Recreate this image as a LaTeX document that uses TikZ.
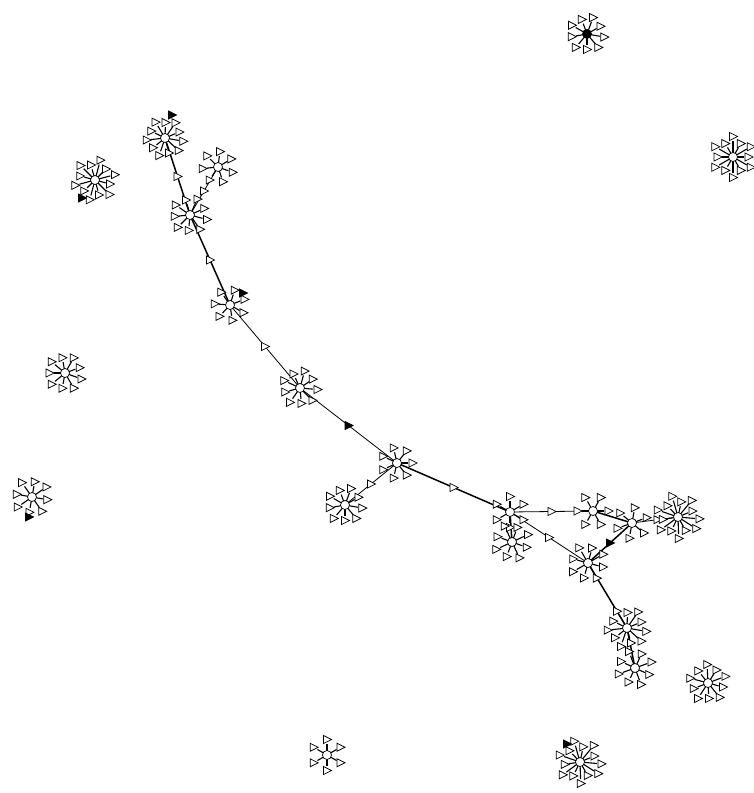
\documentclass[tikz,border=0pt]{standalone}
\usetikzlibrary{calc}
\tikzset{
  hub/.style={circle,draw,fill=white,line width=0.7pt,minimum size=9pt,inner sep=0pt},
  hubdark/.style={hub,fill=black},
  spoke/.style={line width=1.1pt},
  edge/.style={line width=0.8pt},
  thickedge/.style={line width=1.5pt},
  tri/.pic={\draw[fill=white,line width=0.75pt] (-3.4,-4) -- (4.6,0) -- (-3.4,4) -- cycle;},
  ftri/.pic={\draw[fill=black,line width=0.75pt] (-3.4,-4) -- (4.6,0) -- (-3.4,4) -- cycle;}
}
% #1 name, #2 x, #3 y, #4 spokes, #5 angle offset, #6 alternating radius extra, #7 hub style
\newcommand{\hubglyph}[7]{%
  \foreach \k in {1,...,#4}{%
    \pgfmathsetmacro{\ang}{#5+360*\k/#4}%
    \pgfmathsetmacro{\rr}{14.5+#6*mod(\k,2)}%
    \draw[spoke] (#2,#3) -- ($(#2,#3)+(\ang:\rr-3.5)$);
    \pic at ($(#2,#3)+(\ang:\rr+1)$) {tri};
  }%
  \node[#7] (#1) at (#2,#3) {};
}
\begin{document}
\begin{tikzpicture}[x=1pt,y=-1pt]
\useasboundingbox (0,0) rectangle (754,793);
% edges (drawn first, under the hubs)
\coordinate (pA) at (165,138);
\coordinate (pB) at (218,167);
\coordinate (pC) at (190,215);
\coordinate (pD) at (230,305);
\coordinate (pE) at (300,388);
\coordinate (pF) at (397,463);
\coordinate (pG) at (345,505);
\coordinate (pH) at (510,512);
\coordinate (pJ) at (512,542);
\coordinate (pK) at (593,511);
\coordinate (pL) at (632,523);
\coordinate (pM) at (678,517);
\coordinate (pN) at (588,563);
\coordinate (pO) at (627,628);
\coordinate (pP) at (635,668);
\draw[thickedge] (pA) -- (pC);
\draw[edge] (pB) -- (pC);
\draw[thickedge] (pC) -- (pD);
\draw[edge] (pD) -- (pE);
\draw[edge] (pE) -- (pF);
\draw[edge] (pF) -- (pG);
\draw[thickedge] (pF) -- (pH);
\draw[thickedge] (pH) -- (pJ);
\draw[edge] (pH) -- (pK);
\draw[edge] (pH) -- (pN);
\draw[thickedge] (pK) -- (pL);
\draw[edge] (pL) -- (pM);
\draw[thickedge] (pL) -- (pN);
\draw[thickedge] (pN) -- (pO);
\draw[thickedge] (pO) -- (pP);
% edge triangles
\pic at ($(pA)!0.5!(pC)$) {tri};
\pic at ($(pB)!0.5!(pC)$) {tri};
\pic at ($(pC)!0.5!(pD)$) {tri};
\pic at ($(pD)!0.5!(pE)$) {tri};
\pic at ($(pE)!0.5!(pF)$) {ftri};
\pic at ($(pF)!0.5!(pG)$) {tri};
\pic at ($(pF)!0.5!(pH)$) {tri};
\pic at ($(pH)!0.5!(pK)$) {tri};
\pic at ($(pH)!0.5!(pN)$) {tri};
\pic at ($(pL)!0.55!(pM)$) {tri};
\pic at ($(pL)!0.5!(pN)$) {ftri};
% connected hubs
\hubglyph{A}{165}{138}{11}{10}{3}{hub}
\hubglyph{B}{218}{167}{7}{20}{0}{hub}
\hubglyph{C}{190}{215}{9}{15}{2}{hub}
\hubglyph{D}{230}{305}{7}{30}{0}{hub}
\hubglyph{E}{300}{388}{9}{5}{2}{hub}
\hubglyph{F}{397}{463}{7}{0}{0}{hub}
\hubglyph{G}{345}{505}{9}{10}{2}{hub}
\hubglyph{H}{510}{512}{6}{30}{0}{hub}
\hubglyph{J}{512}{542}{8}{20}{2}{hub}
\hubglyph{K}{593}{511}{6}{0}{0}{hub}
\hubglyph{L}{632}{523}{6}{40}{0}{hub}
\hubglyph{M}{678}{517}{13}{5}{6}{hub}
\hubglyph{N}{588}{563}{8}{15}{2}{hub}
\hubglyph{O}{627}{628}{11}{10}{4}{hub}
\hubglyph{P}{635}{668}{8}{25}{2}{hub}
% isolated hubs
\hubglyph{I1}{587}{34}{9}{10}{2}{hubdark}
\hubglyph{I2}{733}{157}{12}{0}{5}{hub}
\hubglyph{I3}{95}{180}{12}{15}{5}{hub}
\hubglyph{I4}{65}{373}{9}{20}{2}{hub}
\hubglyph{I5}{32}{497}{8}{10}{2}{hub}
\hubglyph{I6}{327}{755}{6}{30}{0}{hub}
\hubglyph{I7}{580}{762}{13}{5}{6}{hub}
\hubglyph{I8}{708}{683}{10}{15}{3}{hub}
% filled markers
\pic at (172,115) {ftri};
\pic at (82,198) {ftri};
\pic at (243,293) {ftri};
\pic at (29,517) {ftri};
\pic at (567,744) {ftri};
\end{tikzpicture}
\end{document}
